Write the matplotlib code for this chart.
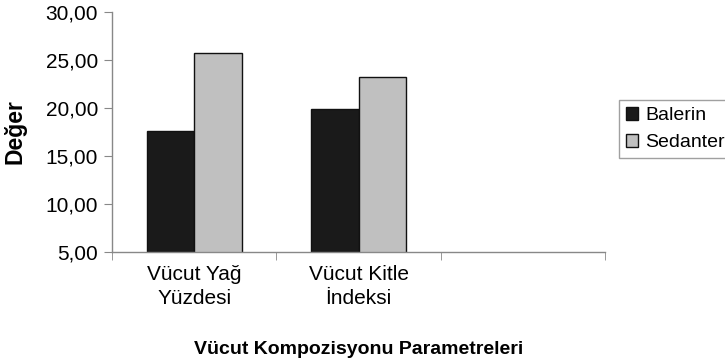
import numpy as np
import matplotlib.pyplot as plt

categories = ['Vücut Yağ\nYüzdesi', 'Vücut Kitle\nİndeksi', '']
balerin = [17.65, 19.85, np.nan]
sedanter = [25.75, 23.25, np.nan]
yticks = [5, 10, 15, 20, 25, 30]

plt.rcParams['font.family'] = ['Liberation Sans', 'DejaVu Sans']

fig = plt.figure(figsize=(7.25, 3.58), dpi=100)
ax = fig.add_axes([112 / 725, 1 - 252 / 358, 493 / 725, 240 / 358])

x = np.arange(len(categories))
w = 0.29
b1 = ax.bar(x - w / 2, balerin, w, color='#1a1a1a', edgecolor='#111111',
            linewidth=1, label='Balerin')
b2 = ax.bar(x + w / 2, sedanter, w, color='#c0c0c0', edgecolor='#111111',
            linewidth=1, label='Sedanter')

ax.set_xlim(-0.5, len(categories) - 0.5)
ax.set_ylim(5, 30)
ax.set_yticks(yticks)
ax.set_yticklabels([f'{v:.2f}'.replace('.', ',') for v in yticks], fontsize=15)

# category labels centered, tick marks on category boundaries
ax.set_xticks(x)
ax.set_xticklabels(categories, fontsize=15, linespacing=1.35)
ax.tick_params(axis='x', which='major', length=0, pad=9)
ax.set_xticks(np.arange(len(categories) + 1) - 0.5, minor=True)
ax.tick_params(axis='x', which='minor', length=6, color='#888888', direction='out')
ax.tick_params(axis='y', length=6, color='#888888', direction='out', pad=4)

for side in ['top', 'right']:
    ax.spines[side].set_visible(False)
for side in ['left', 'bottom']:
    ax.spines[side].set_color('#888888')
    ax.spines[side].set_linewidth(1)

ax.set_ylabel('Değer', fontsize=16.5, fontweight='bold', labelpad=14)
ax.set_xlabel('Vücut Kompozisyonu Parametreleri', fontsize=14, fontweight='bold',
              labelpad=24)

leg = fig.legend(handles=[b1, b2], loc='upper left',
                 bbox_to_anchor=(619 / 725, 1 - 100 / 358), fontsize=14,
                 frameon=True, fancybox=False, handlelength=0.65, handleheight=0.65,
                 handletextpad=0.35, borderpad=0.35, borderaxespad=0,
                 labelspacing=0.5)
leg.get_frame().set_edgecolor('#888888')
leg.get_frame().set_linewidth(1)

fig.savefig('out.png', dpi=100)
